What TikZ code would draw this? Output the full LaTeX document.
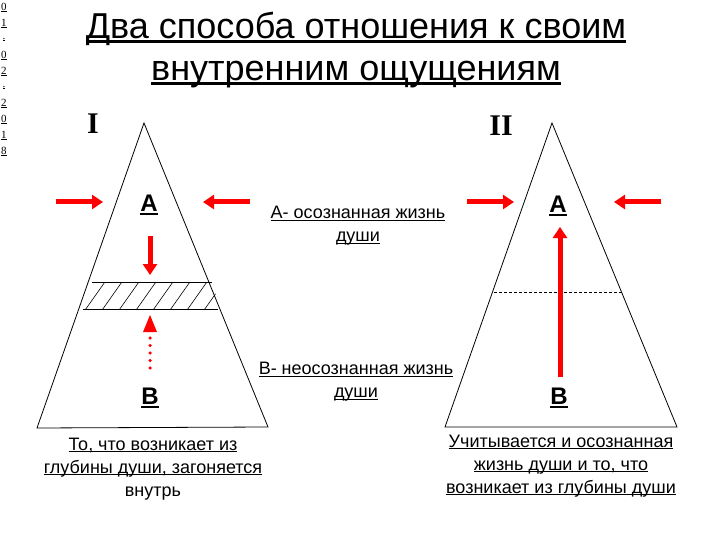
\documentclass[tikz,border=0pt]{standalone}
\usepackage{fontspec}
\setmainfont{Liberation Sans}
\newfontfamily\serifnum{Liberation Serif}
\usetikzlibrary{arrows.meta}
\newsavebox\myulbox
\newcommand\myul[1]{\sbox\myulbox{#1}\rlap{\rule[-0.12em]{\wd\myulbox}{0.08em}}\usebox\myulbox}
\tikzset{
  tri/.style={draw=black, line width=0.8pt, line join=miter},
  redarrow/.style={draw=red, line width=5pt, -{Triangle[length=11pt,width=14pt]}},
  dotarrow/.style={draw=red, line width=3.5pt, line cap=round, dash pattern=on 0pt off 7.5pt},
  lbl/.style={font=\fontsize{18}{23}\selectfont, align=center, inner sep=0pt},
  letter/.style={font=\fontsize{24}{28}\selectfont\bfseries, inner sep=0pt},
  roman/.style={font=\serifnum\bfseries\fontsize{30}{34}\selectfont, inner sep=0pt},
  datechar/.style={font=\serifnum\fontsize{11}{12}\selectfont, inner sep=0pt}
}
\begin{document}
\begin{tikzpicture}[x=1pt,y=-1pt]
\useasboundingbox (0,0) rectangle (720,540);
% date
\foreach \c [count=\i from 0] in {0,1,.,0,2,.,2,0,1,8}{
  \node[datechar] (d\i) at (4, 8+16*\i) {\myul{\c}};
}
% title
\node[font=\fontsize{36}{42}\selectfont, align=center, inner sep=0pt] (title) at (356,50)
  {\myul{Два способа отношения к своим}\\\myul{внутренним ощущениям}};
% roman numerals
\node[roman] (r1) at (93,124) {I};
\node[roman] (r2) at (501,126) {II};
% triangle I
\coordinate (t1a) at (144,123);
\coordinate (t1l) at (37,428);
\coordinate (t1r) at (268,427);
\draw[tri] (t1a) -- (t1l) -- (t1r) -- cycle;
% hatched band
\begin{scope}
  \clip (88,282) -- (212,282) -- (220,309) -- (78,309) -- cycle;
  \foreach \i in {0,...,11}{
    \draw[line width=0.6pt] (66+\i*17,313) -- ++(24,-34);
  }
\end{scope}
\coordinate (h1) at (92,282); \coordinate (h2) at (212,282);
\coordinate (h3) at (83,309); \coordinate (h4) at (218,309);
\draw[line width=0.8pt] (h1) -- (h2);
\draw[line width=0.8pt] (h3) -- (h4);
% triangle II
\coordinate (t2a) at (552,123);
\coordinate (t2l) at (445,427);
\coordinate (t2r) at (677,427);
\draw[tri] (t2a) -- (t2l) -- (t2r) -- cycle;
\coordinate (dl1) at (494,292); \coordinate (dl2) at (622,292);
\draw[line width=0.6pt, dash pattern=on 3pt off 2pt] (dl1) -- (dl2);
% letters
\node[letter] (A1) at (149,205) {\myul{А}};
\node[letter] (B1) at (150,398) {\myul{В}};
\node[letter] (A2) at (558,206) {\myul{А}};
\node[letter] (B2) at (559,398) {\myul{В}};
% arrows I
\coordinate (a1s) at (56,202); \coordinate (a1e) at (103,202);
\coordinate (a2s) at (250,202); \coordinate (a2e) at (203,202);
\coordinate (a3s) at (150,236); \coordinate (a3e) at (150,275);
\draw[redarrow] (a1s) -- (a1e);
\draw[redarrow] (a2s) -- (a2e);
\draw[redarrow] (a3s) -- (a3e);
\coordinate (a4s) at (150,368); \coordinate (a4m) at (150,332); \coordinate (a4e) at (150,315);
\draw[dotarrow] (a4s) -- (a4m);
\draw[draw=none, fill=red] (a4e) -- (143,332) -- (157,332) -- cycle;
% arrows II
\coordinate (b1s) at (467,202); \coordinate (b1e) at (514,202);
\coordinate (b2s) at (661,202); \coordinate (b2e) at (614,202);
\coordinate (b3s) at (560,377); \coordinate (b3e) at (560,227);
\draw[redarrow] (b1s) -- (b1e);
\draw[redarrow] (b2s) -- (b2e);
\draw[redarrow] (b3s) -- (b3e);
% labels
\node[lbl] (la) at (358,226) {\myul{А- осознанная жизнь}\\\myul{души}};
\node[lbl] (lb) at (356,382) {\myul{В- неосознанная жизнь}\\\myul{души}};
\node[lbl] (bl) at (153,469) {\myul{То, что возникает из}\\\myul{глубины души, загоняется}\\внутрь};
\node[lbl] (br) at (561,466) {\myul{Учитывается и осознанная}\\\myul{жизнь души и то, что}\\\myul{возникает из глубины души}};
\end{tikzpicture}
\end{document}
